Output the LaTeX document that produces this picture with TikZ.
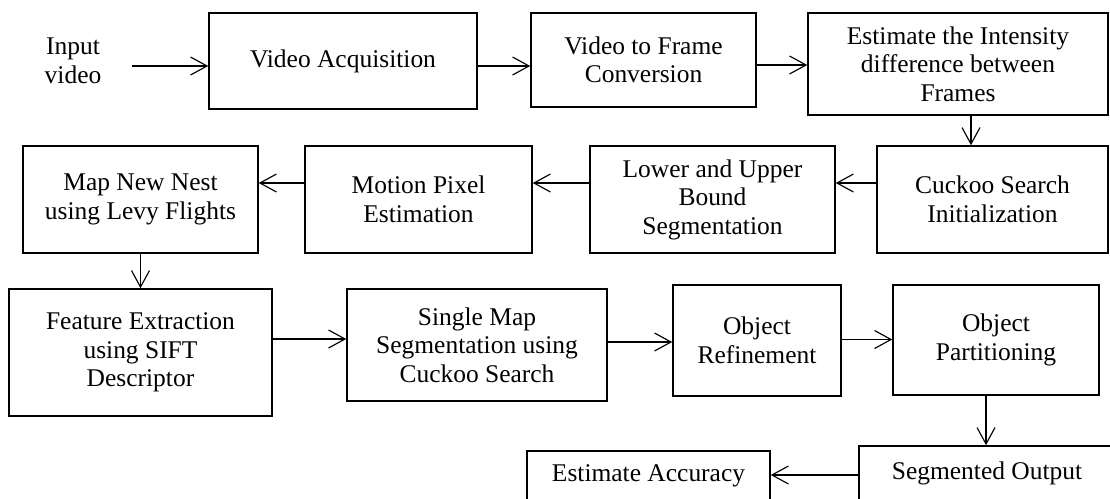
\documentclass[tikz,border=0pt]{standalone}
\usepackage{fontspec}
\setmainfont{Liberation Serif}
\usepackage{tikz}
\usetikzlibrary{arrows.meta}

\begin{document}
\begin{tikzpicture}[x=0.02cm, y=-0.02cm,
    ->,>={Straight Barb[length=3.3mm,width=3.6mm]},
    blk/.style={rectangle,
                draw,
                line width = 0.9pt,
                align = center,
                inner sep = 1pt,
                font = \fontsize{14.5}{16.2}\selectfont}]

    \useasboundingbox (0,0) rectangle (1110,498);

    \node[align = center,
          font = \fontsize{14.5}{16.5}\selectfont
          ] (in) at (73,61) {Input\\video};

    \node[blk,
          minimum width = 5.36cm,
          minimum height = 1.92cm
          ] (va) at (343,61) {Video Acquisition};

    \node[blk,
          minimum width = 4.5cm,
          minimum height = 1.88cm
          ] (vf) at (643.5,60) {Video to Frame\\Conversion};

    \node[blk,
          minimum width = 6cm,
          minimum height = 2.04cm
          ] (est) at (958,64) {Estimate the Intensity\\difference between\\Frames};


    \node[blk,
          minimum width = 4.62cm,
          minimum height = 2.14cm
          ] (cs) at (992.5,199.5) {Cuckoo Search\\Initialization};

    \node[blk,
          minimum width = 4.9cm,
          minimum height = 2.14cm
          ] (lu) at (712.5,199.5) {Lower and Upper\\Bound\\Segmentation};

    \node[blk,
          minimum width = 4.54cm,
          minimum height = 2.14cm
          ] (mp) at (418.5,199.5) {Motion Pixel\\Estimation};

    \node[blk,
          minimum width = 4.7cm,
          minimum height = 2.14cm
          ] (mn) at (140.5,199.5) {Map New Nest\\using Levy Flights};


    \node[blk,
          minimum width = 5.26cm,
          minimum height = 2.54cm
          ] (fe) at (140.5,352.5) {Feature Extraction\\using SIFT\\Descriptor};

    \node[blk,
          minimum width = 5.2cm,
          minimum height = 2.24cm
          ] (sm) at (477,345) {Single Map\\Segmentation using\\Cuckoo Search};

    \node[blk,
          minimum width = 3.36cm,
          minimum height = 2.22cm
          ] (or) at (757,340.5) {Object\\Refinement};

    \node[blk,
          minimum width = 4.12cm,
          minimum height = 2.2cm
          ] (op) at (996,340) {Object\\Partitioning};


    \node[blk,
          minimum width = 5.12cm,
          minimum height = 1.08cm
          ] (so) at (987,473) {Segmented Output};

    \node[blk,
          minimum width = 4.86cm,
          minimum height = 1.0cm
          ] (ea) at (648.5,476) {Estimate Accuracy};


    \path[line width = 0.65pt]
    %first row
    ([xshift=0.48cm,yshift=-0.1cm]in.east) edge ([yshift=-0.1cm]in.east -| va.west)
    ([yshift=-0.1cm]va.east) edge ([yshift=-0.1cm]va.east -| vf.west)
    ([yshift=-0.1cm]vf.east) edge ([yshift=-0.1cm]vf.east -| est.west)
    ([xshift=0.26cm]est.south) edge ([xshift=0.26cm]est.south |- cs.north)
    %second row
    ([yshift=0.33cm]cs.west) edge ([yshift=0.33cm]lu.east)
    ([yshift=0.33cm]lu.west) edge ([yshift=0.33cm]mp.east)
    ([yshift=0.33cm]mp.west) edge ([yshift=0.33cm]mn.east)
    (mn.south) edge (mn.south |- fe.north)
    %third row
    ([yshift=0.27cm]fe.east) edge ([yshift=0.27cm]fe.east -| sm.west)
    ([yshift=0.06cm]sm.east) edge ([yshift=0.06cm]sm.east -| or.west)
    ([yshift=0.02cm]or.east) edge ([yshift=0.02cm]or.east -| op.west)
    ([xshift=-0.2cm]op.south) edge ([xshift=-0.2cm]op.south |- so.north)
    ([yshift=-0.04cm]so.west) edge ([yshift=-0.04cm]so.west -| ea.east);

\end{tikzpicture}
\end{document}
